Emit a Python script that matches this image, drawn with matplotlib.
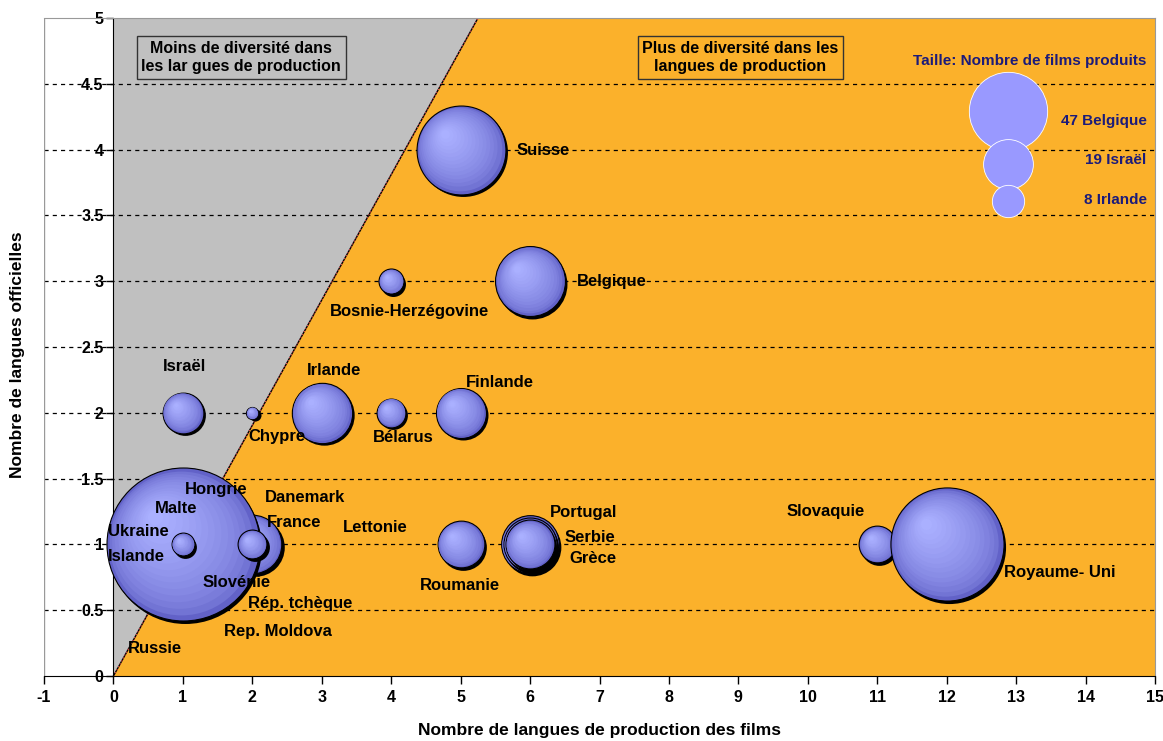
import matplotlib
matplotlib.use('Agg')
import matplotlib.pyplot as plt
import numpy as np
from matplotlib.transforms import offset_copy
from matplotlib.colors import to_rgb
from matplotlib.patches import Polygon

# ---------------- data ----------------
bubble_x = [2, 1, 1, 2, 5, 6, 4, 1, 2, 3, 4, 5, 5, 6, 6, 6, 11, 12]
bubble_y = [1, 1, 1, 1, 4, 3, 3, 2, 2, 2, 2, 2, 1, 1, 1, 1, 1, 1]
bubble_films = [33, 225, 5, 8, 76, 47, 6, 16, 1.4, 35, 8, 24, 21, 32, 27, 23, 13, 123]

label_text = ["Suisse", "Belgique", "Bosnie-Herzégovine", "Israël", "Irlande", "Finlande",
              "Chypre", "Bélarus", "Hongrie", "Danemark", "Malte", "France", "Lettonie",
              "Ukraine", "Islande", "Slovénie", "Rép. tchèque", "Rep. Moldova", "Russie",
              "Roumanie", "Portugal", "Serbie", "Grèce", "Slovaquie", "Royaume- Uni"]
label_x = [5.81, 6.68, 3.12, 0.71, 2.79, 5.08, 1.95, 3.74, 1.03, 2.18, 0.60, 2.21, 3.31,
           -0.08, -0.08, 1.29, 1.94, 1.59, 0.21, 4.42, 6.28, 6.50, 6.56, 9.70, 12.82]
label_y = [3.99, 3.00, 2.77, 2.35, 2.32, 2.23, 1.82, 1.81, 1.42, 1.36, 1.27, 1.17, 1.13,
           1.10, 0.91, 0.71, 0.55, 0.34, 0.21, 0.69, 1.24, 1.05, 0.89, 1.25, 0.79]

legend_films = [47, 19, 8]
legend_names = ["Belgique", "Israël", "Irlande"]
legend_circle_y = [4.29, 3.89, 3.61]
legend_text_y = [4.22, 3.92, 3.62]

x_ticks = list(range(-1, 16))
y_ticks = [0, 0.5, 1, 1.5, 2, 2.5, 3, 3.5, 4, 4.5, 5]
y_tick_labels = ["0", "0.5", "1", "1.5", "2", "2.5", "3", "3.5", "4", "4.5", "5"]

# boundary line: x = 1.05 * y
boundary_ratio = 1.05

# ---------------- style ----------------
FONT = ['Liberation Sans', 'DejaVu Sans']
NARROW = ['Liberation Sans Narrow', 'Liberation Sans', 'DejaVu Sans']
ORANGE = '#FBB12B'
GRAY = '#C0C0C0'
RIM = np.array(to_rgb('#6262c8'))
HIGH = np.array(to_rgb('#aab0ff'))
PX_PER_SQRT = 5.1  # radius in pixels per sqrt(films)

plt.rcParams['font.family'] = FONT
plt.rcParams['font.weight'] = 'bold'

fig = plt.figure(figsize=(11.63, 7.41), dpi=100)
fig.patch.set_facecolor('white')
W, H = 1163, 741
ax = fig.add_axes([44 / W, 1 - 676 / H, (1155 - 44) / W, (676 - 18) / H])
ax.set_xlim(-1, 15)
ax.set_ylim(0, 5)
ax.set_facecolor('white')

ytop = 5
xb = boundary_ratio * ytop
ax.add_patch(Polygon([(0, 0), (15, 0), (15, ytop), (xb, ytop)], closed=True,
                     facecolor=ORANGE, edgecolor='none', zorder=0))
ax.add_patch(Polygon([(0, 0), (0, ytop), (xb, ytop)], closed=True,
                     facecolor=GRAY, edgecolor='none', zorder=0))

# gridlines
for yv in y_ticks[1:-1]:
    ax.plot([-1, 15], [yv, yv], color='black', lw=0.9, ls=(0, (3.3, 3.3)), zorder=1)

# boundary line
ax.plot([0, xb], [0, ytop], color='black', lw=1.0, zorder=1.5)
ax.plot([0, xb], [0, ytop], color='#ff5050', lw=0.8, ls=(0, (1, 2)), zorder=1.6)


def draw_bubble(x, y, films, z):
    d_pt = 2 * PX_PER_SQRT * np.sqrt(films) * 0.72
    r_pt = d_pt / 2
    sh = offset_copy(ax.transData, fig=fig, x=1.6, y=-1.8, units='points')
    ax.scatter([x], [y], s=d_pt ** 2, color='black', transform=sh, zorder=z, linewidths=0)
    ax.scatter([x], [y], s=d_pt ** 2, color=RIM, edgecolors='black', linewidths=0.8, zorder=z + 0.01)
    n = 16
    for i in range(1, n):
        t = i / (n - 1)
        f = 1 - 0.9 * t
        off = (1 - f) * r_pt * 0.40
        tr = offset_copy(ax.transData, fig=fig, x=-off, y=off, units='points')
        c = RIM + (HIGH - RIM) * (t ** 0.55)
        ax.scatter([x], [y], s=(d_pt * f) ** 2, color=c, transform=tr,
                   zorder=z + 0.01 + i * 0.001, linewidths=0)


for k, (bx, by, bf) in enumerate(zip(bubble_x, bubble_y, bubble_films)):
    draw_bubble(bx, by, bf, 3 + k * 0.1)

# country labels
for t, lx, ly in zip(label_text, label_x, label_y):
    ax.text(lx, ly, t, ha='left', va='center', fontsize=12, fontweight='bold',
            color='black', zorder=10)

# boxed annotations
ax.text(1.84, 4.70, "Moins de diversité dans\nles lar gues de production", ha='center', va='center',
        fontsize=11.5, fontweight='bold', linespacing=1.3, zorder=10,
        bbox=dict(boxstyle='square,pad=0.3', facecolor=GRAY, edgecolor='#333333', lw=1))
ax.text(9.03, 4.70, "Plus de diversité dans les\nlangues de production", ha='center', va='center',
        fontsize=11.5, fontweight='bold', linespacing=1.3, zorder=10,
        bbox=dict(boxstyle='square,pad=0.3', facecolor=ORANGE, edgecolor='#333333', lw=1))

# size legend
NAVY = '#1b1b7a'
LEG_SCALE = 1.12
ax.text(14.88, 4.67, "Taille: Nombre de films produits", ha='right', va='center',
        fontsize=11, fontweight='bold', color=NAVY, zorder=10)
for lf, ln, cy, ty in zip(legend_films, legend_names, legend_circle_y, legend_text_y):
    d_pt = 2 * PX_PER_SQRT * LEG_SCALE * np.sqrt(lf) * 0.72
    ax.scatter([12.89], [cy], s=d_pt ** 2, color='#9999ff', edgecolors='white',
               linewidths=0.6, zorder=9)
    ax.text(14.88, ty, f"{lf} {ln}", ha='right', va='center', fontsize=11,
            fontweight='bold', color=NAVY, zorder=10)

# axes / spines
ax.spines['left'].set_position(('data', 0))
ax.spines['left'].set_color('black')
ax.spines['left'].set_zorder(2)
ax.spines['bottom'].set_color('black')
ax.spines['top'].set_color('#999999')
ax.spines['right'].set_color('#999999')
ax.axvline(-1, color='#999999', lw=1.0, zorder=2)

ax.set_xticks(x_ticks)
ax.set_xticklabels([str(v) for v in x_ticks])
ax.set_yticks(y_ticks)
ax.set_yticklabels(y_tick_labels)
ax.tick_params(axis='x', direction='out', length=6, width=1, labelsize=11.5, pad=4)
ax.tick_params(axis='y', direction='out', length=5, width=1, labelsize=11.5, pad=2)
for lab in ax.get_xticklabels() + ax.get_yticklabels():
    lab.set_fontweight('bold')

fig.text(600 / W, 1 - 731 / H, "Nombre de langues de production des films", ha='center',
         va='center', fontsize=12.5, fontweight='bold', family=NARROW)
fig.text(18 / W, 1 - 355 / H, "Nombre de langues officielles", ha='center', va='center',
         rotation=90, fontsize=12.5, fontweight='bold', family=NARROW)

fig.savefig('out.png', dpi=100)
